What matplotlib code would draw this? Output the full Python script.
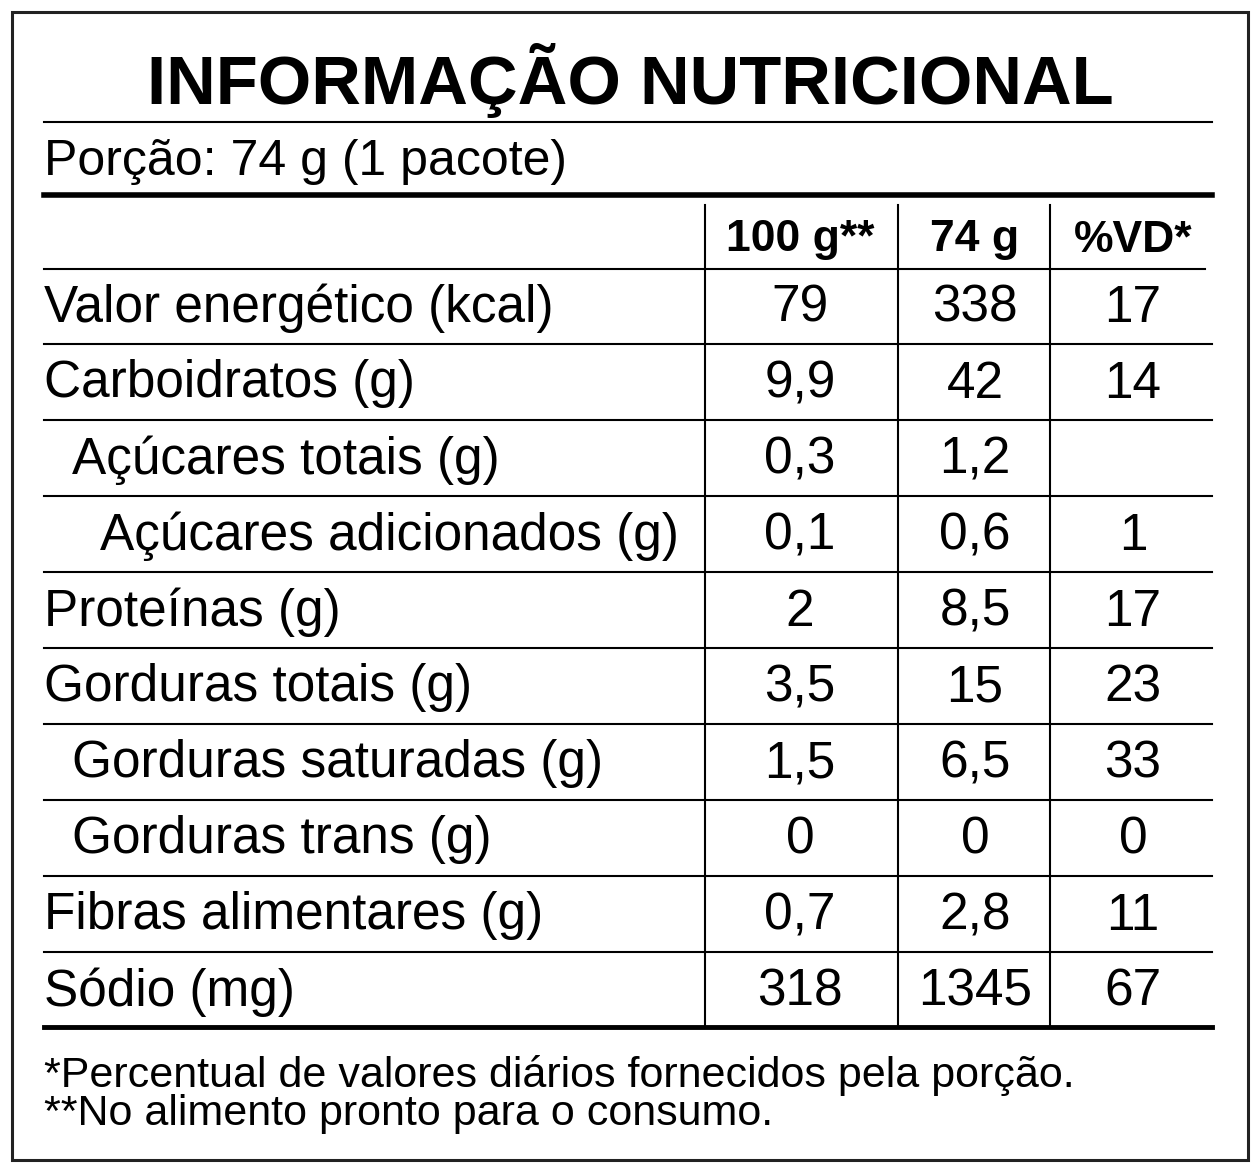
import matplotlib
matplotlib.use("Agg")
import matplotlib.pyplot as plt
from matplotlib.patches import Rectangle

title = "INFORMAÇÃO NUTRICIONAL"
portion = "Porção: 74 g (1 pacote)"
headers = ["100 g**", "74 g", "%VD*"]
labels = ["Valor energético (kcal)", "Carboidratos (g)", "Açúcares totais (g)",
          "Açúcares adicionados (g)", "Proteínas (g)", "Gorduras totais (g)",
          "Gorduras saturadas (g)", "Gorduras trans (g)", "Fibras alimentares (g)", "Sódio (mg)"]
indent = [0, 0, 1, 2, 0, 0, 1, 1, 0, 0]
per100 = ["79", "9,9", "0,3", "0,1", "2", "3,5", "1,5", "0", "0,7", "318"]
per74 = ["338", "42", "1,2", "0,6", "8,5", "15", "6,5", "0", "2,8", "1345"]
vd = ["17", "14", "", "1", "17", "23", "33", "0", "11", "67"]
notes = ["*Percentual de valores diários fornecidos pela porção.",
         "**No alimento pronto para o consumo."]

F = ["Liberation Sans", "DejaVu Sans"]
fig = plt.figure(figsize=(12.6, 11.72), dpi=100)
ax = fig.add_axes([0, 0, 1, 1])
ax.set_xlim(0, 1260); ax.set_ylim(1172, 0); ax.axis("off")

ax.add_patch(Rectangle((12, 12), 1236, 1148, fill=False, lw=2.2, ec="#222"))
ax.text(630, 80, title, ha="center", va="center", fontsize=49.5, fontweight="bold", family=F)
ax.plot([44, 1212], [122, 122], color="k", lw=1.5)
ax.text(44, 162, portion, ha="left", va="center", fontsize=36, family=F)
ax.plot([44, 1212], [195, 195], color="k", lw=4)

cols = [800, 975, 1133]
for c, h in zip(cols, headers):
    ax.text(c, 240, h, ha="center", va="center", fontsize=32, fontweight="bold", family=F)
for x in [705, 898, 1050]:
    ax.plot([x, x], [205, 1027], color="k", lw=1.5)
ax.plot([44, 1205], [269, 269], color="k", lw=1.5)

y0, dy = 308, 76.0
for i, (lab, ind) in enumerate(zip(labels, indent)):
    y = y0 + i * dy
    ax.text(44 + 28 * ind, y, lab, ha="left", va="center", fontsize=37, family=F)
    for c, v in zip(cols, [per100[i], per74[i], vd[i]]):
        ax.text(c, y, v, ha="center", va="center", fontsize=37, family=F)
    if i < len(labels) - 1:
        ax.plot([44, 1212], [y - 2 + dy / 2, y - 2 + dy / 2], color="k", lw=1.5)
ax.plot([44, 1212], [1027, 1027], color="k", lw=3.5)

ax.text(44, 1076, notes[0], ha="left", va="center", fontsize=31, family=F)
ax.text(44, 1114, notes[1], ha="left", va="center", fontsize=31, family=F)

fig.savefig("out.png", dpi=100, facecolor="white")
